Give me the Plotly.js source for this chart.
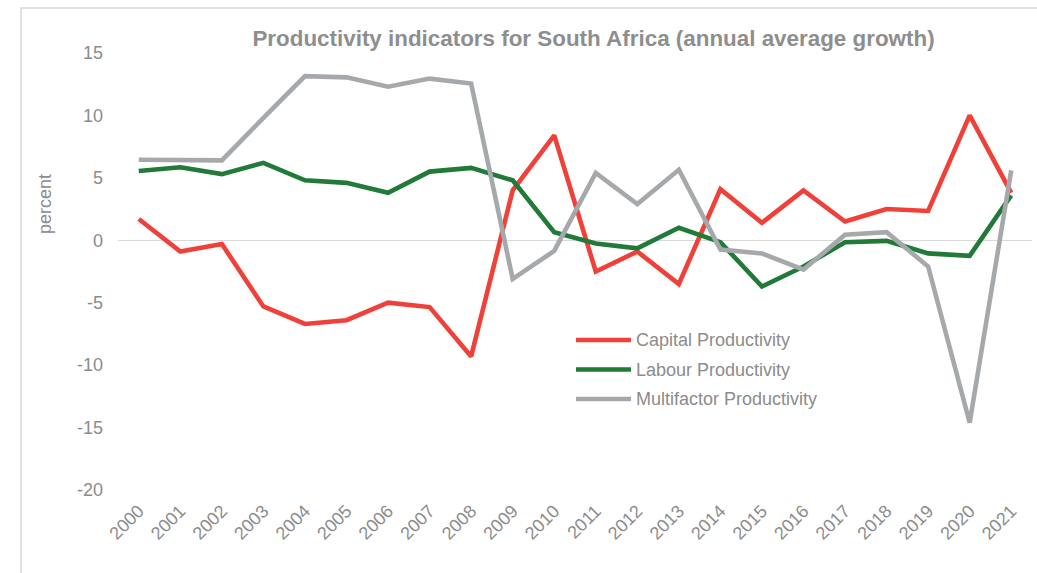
<!DOCTYPE html>
<html>
<head>
<meta charset="utf-8">
<script src="https://cdn.plot.ly/plotly-3.0.1.min.js"></script>
<style>html,body{margin:0;padding:0;background:#fff;}#chart{width:1037px;height:573px;}</style>
</head>
<body>
<div id="chart"></div>
<script>
const years = ["2000","2001","2002","2003","2004","2005","2006","2007","2008","2009","2010","2011","2012","2013","2014","2015","2016","2017","2018","2019","2020","2021"];
const capital = [1.7,-0.9,-0.3,-5.3,-6.7,-6.4,-5.0,-5.35,-9.3,4.0,8.4,-2.5,-0.9,-3.5,4.1,1.4,4.0,1.5,2.5,2.35,10.0,3.8];
const labour = [5.55,5.85,5.3,6.2,4.8,4.6,3.8,5.5,5.8,4.8,0.65,-0.25,-0.65,1.0,-0.15,-3.7,-2.1,-0.15,-0.05,-1.05,-1.25,3.6];
const multifactor = [6.45,6.4,6.4,9.8,13.15,13.05,12.3,12.95,12.55,-3.1,-0.85,5.4,2.9,5.65,-0.75,-1.05,-2.35,0.45,0.65,-2.1,-14.6,5.6];
const tickVals = [15,10,5,0,-5,-10,-15,-20];
const tickLabels = ["15","10","5","0","-5","-10","-15","-20"];

const names = ["Capital Productivity","Labour Productivity","Multifactor Productivity"];
const series = [capital, labour, multifactor];
const colors = ["#ef4139","#217a38","#a6a9ab"];

const traces = series.map((s,i)=>({
  x: years, y: s, type:"scatter", mode:"lines", name: names[i],
  line:{color: colors[i], width: 4.6, shape:"linear"},
  hoverinfo:"skip", showlegend:false
}));

const gray = "#8c8c8c";
const W = 1037, H = 573, ML = 118, MR = 5, MT = 53, MB = 83;
const PW = W - ML - MR, PH = H - MT - MB;
const px = x => (x - ML) / PW;
const py = y => (H - MB - y) / PH;

// manual legend (line samples + labels)
const legRows = [340, 369.5, 399];
const legShapes = names.map((n,i)=>({type:"line", xref:"paper", yref:"paper",
  x0:px(576), x1:px(631), y0:py(legRows[i]), y1:py(legRows[i]),
  line:{color:colors[i], width:4.6}}));
const legText = names.map((n,i)=>({text:n, xref:"paper", yref:"paper",
  x:px(634), y:py(legRows[i]), xanchor:"left", yanchor:"middle", showarrow:false,
  font:{size:18, color:gray}}));

const layout = {
  width:W, height:H,
  margin:{l:ML, r:MR, t:MT, b:MB},
  paper_bgcolor:"#fff", plot_bgcolor:"#fff",
  font:{family:"Liberation Sans, Arial, sans-serif", size:18, color:gray},
  title:{text:"<b>Productivity indicators for South Africa (annual average growth)</b>",
    font:{size:22.4, color:"#8e8e8e", family:"Liberation Sans, Arial, sans-serif"},
    x:px(593.5), xref:"paper", xanchor:"center", y:1-38/H, yref:"container", yanchor:"middle"},
  xaxis:{type:"category", range:[-0.5,21.5], showgrid:false, zeroline:false, showline:false,
    tickangle:-45, ticks:"", ticklabelstandoff:6, tickfont:{size:18, color:gray}, fixedrange:true},
  yaxis:{range:[-20,15], tickvals:tickVals, ticktext:tickLabels, showgrid:false, zeroline:true, zerolinecolor:"#d9d9d9", zerolinewidth:1.5,
    showline:false, ticks:"", ticklabelstandoff:14, tickfont:{size:18, color:gray}, fixedrange:true},
  showlegend:false,
  annotations:[{text:"percent", xref:"paper", yref:"paper", x:px(45), y:py(204), textangle:-90,
    showarrow:false, font:{size:18, color:gray}, xanchor:"center", yanchor:"middle"}].concat(legText),
  shapes:[{type:"rect", xref:"paper", yref:"paper", x0:px(21), x1:1.2, y0:-0.5, y1:py(8),
    line:{color:"#d9d9d9", width:1.5}, fillcolor:"rgba(0,0,0,0)", layer:"below"}].concat(legShapes)
};
Plotly.newPlot("chart", traces, layout, {displayModeBar:false, staticPlot:true});
</script>
</body>
</html>
